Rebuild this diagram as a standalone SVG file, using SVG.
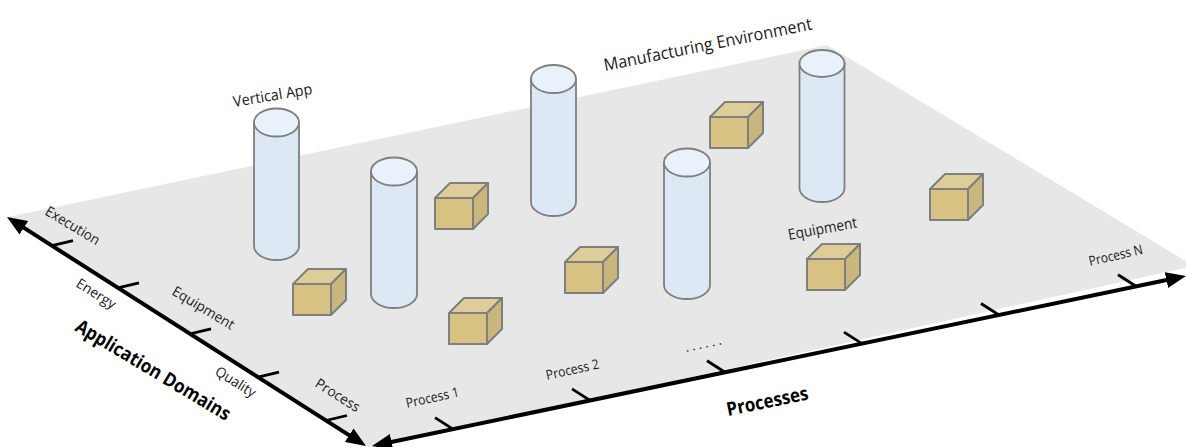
<svg xmlns="http://www.w3.org/2000/svg" width="1186" height="447" viewBox="0 0 1186 447">
<defs>
<style>
.cylb{fill:#dce8f4;stroke:#7f7f7f;stroke-width:1.8}
.cylt{fill:#e9f1fa;stroke:#7f7f7f;stroke-width:1.8}
.cf{fill:#d7c283;stroke:#7f7f7f;stroke-width:2;stroke-linejoin:round}
.ct{fill:#dfcd99;stroke:#7f7f7f;stroke-width:2;stroke-linejoin:round}
.cs{fill:#c9b67c;stroke:#7f7f7f;stroke-width:2;stroke-linejoin:round}
.axis{stroke:#000;stroke-width:4;fill:none}
.tick{stroke:#000;stroke-width:2.8;fill:none}
.t{font-family:"Open Sans",Lato,sans-serif;fill:#1a1a1a}
.s{font-size:14px}
.b{font-size:19px;font-weight:bold;fill:#000}
</style>
<marker id="ah" viewBox="0 0 20 16" refX="10" refY="8" markerWidth="20" markerHeight="16" markerUnits="userSpaceOnUse" orient="auto-start-reverse">
<path d="M0,0 L20,8 L0,16 z" fill="#000"/>
</marker>
</defs>

<g id="plane">
<polygon points="8,217 827,45 1194,266 370,448" fill="#e7e7e7"/>
</g>

<g id="connectors">
<line class="axis" x1="15.4" y1="222.4" x2="357.6" y2="440.6" marker-start="url(#ah)" marker-end="url(#ah)"/>
<line class="axis" x1="381.8" y1="444" x2="1176.2" y2="278" marker-start="url(#ah)" marker-end="url(#ah)"/>
<g id="ticks-domains">
<line class="tick" x1="52" y1="245.7" x2="73" y2="240.7"/>
<line class="tick" x1="118" y1="287.8" x2="139" y2="282.8"/>
<line class="tick" x1="190" y1="333.8" x2="211" y2="328.8"/>
<line class="tick" x1="258" y1="377.1" x2="279" y2="372.1"/>
<line class="tick" x1="326" y1="420.5" x2="347" y2="415.5"/>
</g>
<g id="ticks-processes">
<line class="tick" x1="453" y1="429.1" x2="435" y2="417.6"/>
<line class="tick" x1="590" y1="400.4" x2="572" y2="388.9"/>
<line class="tick" x1="725" y1="372.2" x2="707" y2="360.7"/>
<line class="tick" x1="862" y1="343.6" x2="844" y2="332.1"/>
<line class="tick" x1="999" y1="315" x2="981" y2="303.5"/>
<line class="tick" x1="1136" y1="286.3" x2="1118" y2="274.8"/>
</g>
</g>

<g id="cyl1"><path class="cylb" d="M254,122.5 V246 A22.5,14 0 0 0 299,246 V122.5 Z"/><ellipse class="cylt" cx="276.5" cy="122.5" rx="22.5" ry="14"/></g>
<g id="cyl2"><path class="cylb" d="M371,171.5 V294 A23,14 0 0 0 417,294 V171.5 Z"/><ellipse class="cylt" cx="394" cy="171.5" rx="23" ry="14"/></g>
<g id="cyl3"><path class="cylb" d="M531,79 V202 A22.5,14 0 0 0 576,202 V79 Z"/><ellipse class="cylt" cx="553.5" cy="79" rx="22.5" ry="14"/></g>
<g id="cyl4"><path class="cylb" d="M664,162.5 V285 A23,14 0 0 0 710,285 V162.5 Z"/><ellipse class="cylt" cx="687" cy="162.5" rx="23" ry="14"/></g>
<g id="cyl5"><path class="cylb" d="M799.5,63.5 V188 A22.5,14 0 0 0 844.5,188 V63.5 Z"/><ellipse class="cylt" cx="822" cy="63.5" rx="22.5" ry="13.5"/></g>

<g id="cube1" transform="translate(293,284)"><polygon class="ct" points="0,0 15,-15 53,-15 38,0"/><polygon class="cs" points="38,0 53,-15 53,16 38,31"/><rect class="cf" x="0" y="0" width="38" height="31"/></g>
<g id="cube2" transform="translate(435,198)"><polygon class="ct" points="0,0 15,-15 53,-15 38,0"/><polygon class="cs" points="38,0 53,-15 53,16 38,31"/><rect class="cf" x="0" y="0" width="38" height="31"/></g>
<g id="cube3" transform="translate(449,313)"><polygon class="ct" points="0,0 15,-15 53,-15 38,0"/><polygon class="cs" points="38,0 53,-15 53,16 38,31"/><rect class="cf" x="0" y="0" width="38" height="31"/></g>
<g id="cube4" transform="translate(565,262)"><polygon class="ct" points="0,0 15,-15 53,-15 38,0"/><polygon class="cs" points="38,0 53,-15 53,16 38,31"/><rect class="cf" x="0" y="0" width="38" height="31"/></g>
<g id="cube5" transform="translate(710,117)"><polygon class="ct" points="0,0 15,-15 53,-15 38,0"/><polygon class="cs" points="38,0 53,-15 53,16 38,31"/><rect class="cf" x="0" y="0" width="38" height="31"/></g>
<g id="cube6" transform="translate(807,259)"><polygon class="ct" points="0,0 15,-15 53,-15 38,0"/><polygon class="cs" points="38,0 53,-15 53,16 38,31"/><rect class="cf" x="0" y="0" width="38" height="31"/></g>
<g id="cube7" transform="translate(930,189)"><polygon class="ct" points="0,0 15,-15 53,-15 38,0"/><polygon class="cs" points="38,0 53,-15 53,16 38,31"/><rect class="cf" x="0" y="0" width="38" height="31"/></g>

<g id="labels">
<text class="t" font-size="17" transform="translate(605,71) rotate(-11.3)" textLength="212" lengthAdjust="spacingAndGlyphs">Manufacturing Environment</text>
<text class="t" font-size="15" transform="translate(234,107) rotate(-9.5)" textLength="80" lengthAdjust="spacingAndGlyphs">Vertical App</text>
<text class="t" font-size="15" transform="translate(789,240) rotate(-10.4)" textLength="70" lengthAdjust="spacingAndGlyphs">Equipment</text>
<text class="t" font-size="13.5" transform="translate(407,408) rotate(-12.5)" textLength="54" lengthAdjust="spacingAndGlyphs">Process 1</text>
<text class="t" font-size="13.5" transform="translate(547,380) rotate(-12.5)" textLength="54" lengthAdjust="spacingAndGlyphs">Process 2</text>
<text class="t" font-size="13.5" transform="translate(686,352) rotate(-12)" textLength="37" lengthAdjust="spacing">......</text>
<text class="t" font-size="13.5" transform="translate(1090,266) rotate(-13)" textLength="55" lengthAdjust="spacingAndGlyphs">Process N</text>
<text class="t b" transform="translate(728,416) rotate(-11.6)" textLength="83" lengthAdjust="spacingAndGlyphs">Processes</text>
<text class="t s" transform="translate(44,214) rotate(31)" textLength="61" lengthAdjust="spacingAndGlyphs">Execution</text>
<text class="t s" transform="translate(75,286) rotate(32)" textLength="44" lengthAdjust="spacingAndGlyphs">Energy</text>
<text class="t s" transform="translate(171,294) rotate(31)" textLength="70" lengthAdjust="spacingAndGlyphs">Equipment</text>
<text class="t s" transform="translate(214,374) rotate(32)" textLength="45" lengthAdjust="spacingAndGlyphs">Quality</text>
<text class="t s" transform="translate(314,386) rotate(32)" textLength="50" lengthAdjust="spacingAndGlyphs">Process</text>
<text class="t b" transform="translate(74,330) rotate(31)" textLength="177" lengthAdjust="spacingAndGlyphs">Application Domains</text>
</g>
</svg>
